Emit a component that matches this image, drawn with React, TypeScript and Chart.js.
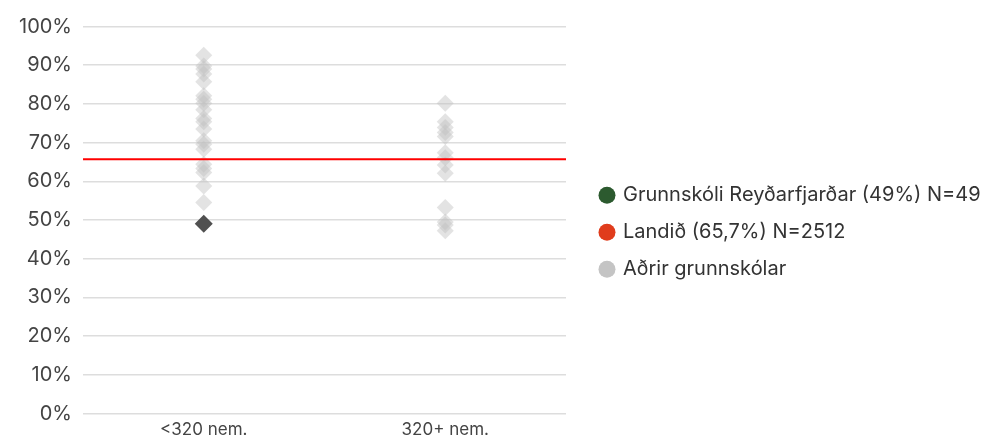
import React, { useEffect, useRef } from "react";
import { Chart, registerables } from "chart.js";

Chart.register(...registerables);

const categories = ["<320 nem.", "320+ nem."];

const schoolLabel = "Grunnskóli Reyðarfjarðar (49%) N=49";
const schoolCategory = "<320 nem.";
const schoolValues = [49];

const nationalLabel = "Landið (65,7%) N=2512";
const nationalValue = 65.7;

const othersLabel = "Aðrir grunnskólar";
const othersSmall = [92.6, 89.8, 89.0, 87.7, 85.7, 82.1, 81.2, 80.2, 78.5, 76.2, 75.4, 73.5, 70.5, 69.6, 68.3, 64.4, 63.3, 62.3, 58.8, 54.5];
const othersLarge = [80.2, 75.4, 73.9, 72.6, 71.6, 67.4, 66.1, 64.2, 62.1, 53.2, 49.5, 48.7, 47.2];

const yMin = 0;
const yMax = 100;
const yStep = 10;

const legendColors = ["#2c5a2f", "#e03c1c", "#c4c4c4"];

const FONT = "Inter, 'Noto Sans', sans-serif";

const LEGEND_WIDTH = 403;

const legendWidthPlugin = {
  id: "legendWidth",
  beforeLayout(chart: any) {
    const lg = chart.legend;
    if (lg && !lg.__patched) {
      const orig = lg.fit.bind(lg);
      lg.fit = function () {
        orig();
        this.width = LEGEND_WIDTH;
      };
      lg.__patched = true;
    }
  },
};

export default function App() {
  const ref = useRef<HTMLCanvasElement | null>(null);

  useEffect(() => {
    if (!ref.current) return;
    const othersData = [
      ...othersSmall.map((v) => ({ x: categories[0], y: v })),
      ...othersLarge.map((v) => ({ x: categories[1], y: v })),
    ];
    const chart = new Chart(ref.current, {
      type: "line",
      data: {
        labels: categories,
        datasets: [
          {
            label: schoolLabel,
            data: schoolValues.map((v) => ({ x: schoolCategory, y: v })),
            showLine: false,
            pointStyle: "rectRot",
            pointRadius: 9,
            pointBackgroundColor: "#505050",
            pointBorderColor: "#505050",
            pointBorderWidth: 0,
            backgroundColor: legendColors[0],
          } as any,
          {
            label: nationalLabel,
            data: [
              { x: 0, y: nationalValue },
              { x: 1, y: nationalValue },
            ],
            xAxisID: "xLine",
            borderColor: "#ff0000",
            borderWidth: 2,
            pointRadius: 0,
            backgroundColor: legendColors[1],
          } as any,
          {
            label: othersLabel,
            data: othersData,
            showLine: false,
            pointStyle: "rectRot",
            pointRadius: 8.5,
            pointBackgroundColor: "rgba(192,192,192,0.45)",
            pointBorderColor: "rgba(192,192,192,0)",
            pointBorderWidth: 0,
            backgroundColor: legendColors[2],
          } as any,
        ],
      },
      options: {
        animation: false,
        responsive: true,
        maintainAspectRatio: false,
        layout: { padding: { top: 26.5, left: 8, right: 0, bottom: 0 } },
        scales: {
          x: {
            type: "category",
            offset: true,
            grid: { display: false, drawTicks: false },
            border: { display: false },
            ticks: {
              color: "#444",
              padding: 6,
              font: { family: FONT, size: 17 },
            },
            afterFit: (s: any) => {
              s.height = 24.5;
            },
          },
          xLine: {
            type: "linear",
            display: false,
            min: 0,
            max: 1,
          },
          y: {
            min: yMin,
            max: yMax,
            grid: { color: "#dddddd", lineWidth: 1.5, drawTicks: false },
            border: { display: false },
            ticks: {
              stepSize: yStep,
              padding: 11,
              color: "#444",
              font: { family: FONT, size: 20 },
              callback: (v: any) => v + "%",
            },
          },
          yGap: {
            position: "right",
            display: true,
            grid: { display: false, drawTicks: false },
            border: { display: false },
            ticks: { display: false },
            afterFit: (s: any) => {
              s.width = 18;
            },
          },
        },
        plugins: {
          tooltip: { enabled: false },
          legend: {
            position: "right",
            align: "center",
            labels: {
              usePointStyle: true,
              boxWidth: 12,
              boxHeight: 12,
              padding: 17,
              color: "#333",
              font: { family: FONT, size: 20 },
              generateLabels: (c: any) =>
                c.data.datasets.map((ds: any, i: number) => ({
                  text: ds.label,
                  fillStyle: legendColors[i],
                  strokeStyle: legendColors[i],
                  lineWidth: 0,
                  pointStyle: "circle",
                  hidden: false,
                  datasetIndex: i,
                  fontColor: "#333",
                })),
            },
          },
        },
      },
      plugins: [legendWidthPlugin],
    });
    return () => chart.destroy();
  }, []);

  return (
    <div style={{ position: "absolute", left: 0, top: 0, width: 987, height: 438 }}>
      <canvas ref={ref} />
    </div>
  );
}
